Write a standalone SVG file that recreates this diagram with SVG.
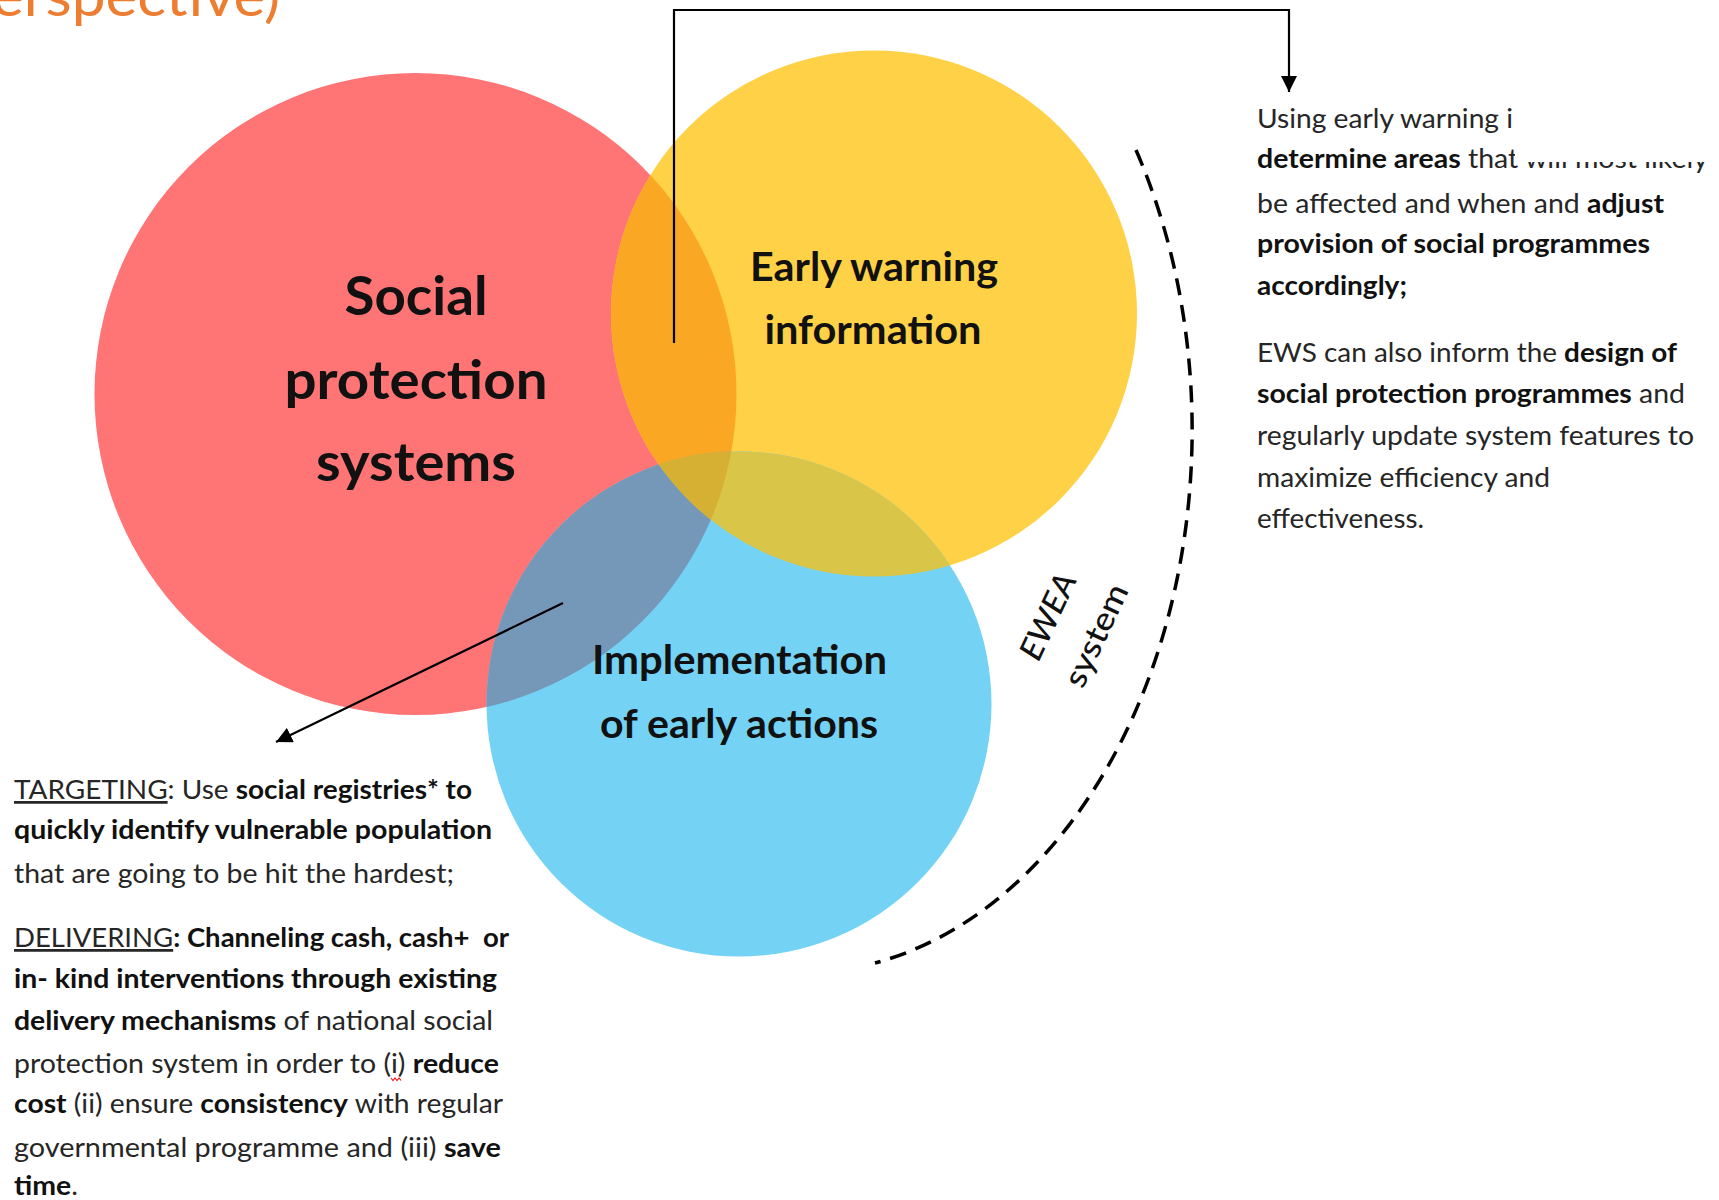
<svg xmlns="http://www.w3.org/2000/svg" width="1719" height="1200" viewBox="0 0 1719 1200">
<style>
.t{font-family:Lato,"Liberation Sans",sans-serif;fill:#262626;}
.p{font-size:27.5px;}
.b{font-weight:700;fill:#111;}
.h{font-family:Lato,"Liberation Sans",sans-serif;font-weight:700;fill:#111;text-anchor:middle;}
.u{text-decoration:underline;}
.ln{fill:none;stroke:#000;stroke-width:2.2;}
</style>
<defs>
<clipPath id="cpRed"><circle cx="415.5" cy="394" r="321"/></clipPath>
<clipPath id="cpYel"><circle cx="874" cy="313.5" r="263"/></clipPath>
<marker id="ah" viewBox="0 0 10 10" refX="10" refY="5" markerWidth="16" markerHeight="16" markerUnits="userSpaceOnUse" orient="auto"><path d="M0 0 L10 5 L0 10 Z" fill="#000"/></marker>
</defs>
<rect width="1719" height="1200" fill="#fff"/>
<text class="t" x="-8" y="16" font-size="56" font-weight="400" style="fill:#ED7D31" textLength="288" lengthAdjust="spacingAndGlyphs">erspective)</text>

<g id="node-social"><circle cx="415.5" cy="394" r="321" fill="#FF7474"/></g>
<g id="node-early-warning"><circle cx="874" cy="313.5" r="263" fill="#FFD146"/></g>
<g id="node-implementation"><circle cx="739" cy="704" r="252.5" fill="#74D3F5"/></g>
<g id="overlaps">
<circle cx="874" cy="313.5" r="263" fill="#FAA723" clip-path="url(#cpRed)"/>
<circle cx="739" cy="704" r="252.5" fill="#7597B8" clip-path="url(#cpRed)"/>
<circle cx="739" cy="704" r="252.5" fill="#D9C548" clip-path="url(#cpYel)"/>
<g clip-path="url(#cpRed)"><circle cx="739" cy="704" r="252.5" fill="#D6B033" clip-path="url(#cpYel)"/></g>
</g>

<g id="labels">
<text class="h" x="416" y="315" font-size="54" textLength="143" lengthAdjust="spacingAndGlyphs">Social</text>
<text class="h" x="416" y="399" font-size="54" textLength="263" lengthAdjust="spacingAndGlyphs">protection</text>
<text class="h" x="416" y="481" font-size="54" textLength="200" lengthAdjust="spacingAndGlyphs">systems</text>
<text class="h" x="874" y="281" font-size="40" textLength="248" lengthAdjust="spacingAndGlyphs">Early warning</text>
<text class="h" x="873" y="344" font-size="40" textLength="217" lengthAdjust="spacingAndGlyphs">information</text>
<text class="h" x="739.5" y="674" font-size="40" textLength="295" lengthAdjust="spacingAndGlyphs">Implementation</text>
<text class="h" x="739" y="738" font-size="40" textLength="278" lengthAdjust="spacingAndGlyphs">of early actions</text>
</g>

<g id="ewea-label">
<text class="t" transform="translate(1058 621) rotate(-65)" font-size="32" font-style="italic" font-weight="500" text-anchor="middle" style="fill:#111" textLength="92" lengthAdjust="spacingAndGlyphs">EWEA</text>
<text class="t" transform="translate(1106 640) rotate(-65)" font-size="32" font-weight="500" text-anchor="middle" style="fill:#111" textLength="110" lengthAdjust="spacingAndGlyphs">system</text>
</g>

<g id="text-right" class="t p">
<text x="1257" y="128" textLength="256" lengthAdjust="spacingAndGlyphs">Using early warning i</text>
<text x="1257" y="168" textLength="451" lengthAdjust="spacingAndGlyphs"><tspan class="b">determine areas</tspan> that will most likely</text>
<text x="1257" y="213" textLength="407" lengthAdjust="spacingAndGlyphs">be affected and when and <tspan class="b">adjust</tspan></text>
<text x="1257" y="253" class="b" textLength="393" lengthAdjust="spacingAndGlyphs">provision of social programmes</text>
<text x="1257" y="295" class="b" textLength="150" lengthAdjust="spacingAndGlyphs">accordingly;</text>
<text x="1257" y="362" textLength="420" lengthAdjust="spacingAndGlyphs">EWS can also inform the <tspan class="b">design of</tspan></text>
<text x="1257" y="403" textLength="428" lengthAdjust="spacingAndGlyphs"><tspan class="b">social protection programmes</tspan> and</text>
<text x="1257" y="445" textLength="437" lengthAdjust="spacingAndGlyphs">regularly update system features to</text>
<text x="1257" y="487" textLength="293" lengthAdjust="spacingAndGlyphs">maximize efficiency and</text>
<text x="1257" y="528" textLength="167" lengthAdjust="spacingAndGlyphs">effectiveness.</text>
</g>
<rect x="1515" y="88" width="204" height="74" fill="#fff"/>

<g id="text-left" class="t p">
<text x="14" y="799" textLength="458" lengthAdjust="spacingAndGlyphs"><tspan class="u">TARGETING</tspan>: Use <tspan class="b">social registries* to</tspan></text>
<text x="14" y="839" class="b" textLength="478" lengthAdjust="spacingAndGlyphs">quickly identify vulnerable population</text>
<text x="14" y="883" textLength="440" lengthAdjust="spacingAndGlyphs">that are going to be hit the hardest;</text>
<text x="14" y="947" textLength="495" lengthAdjust="spacingAndGlyphs" xml:space="preserve"><tspan class="u">DELIVERING</tspan><tspan class="b">: Channeling cash, cash+  or</tspan></text>
<text x="14" y="988" class="b" textLength="483" lengthAdjust="spacingAndGlyphs">in- kind interventions through existing</text>
<text x="14" y="1030" textLength="479" lengthAdjust="spacingAndGlyphs"><tspan class="b">delivery mechanisms</tspan> of national social</text>
<text x="14" y="1073" textLength="485" lengthAdjust="spacingAndGlyphs">protection system in order to (i) <tspan class="b">reduce</tspan></text>
<text x="14" y="1113" textLength="489" lengthAdjust="spacingAndGlyphs"><tspan class="b">cost</tspan> (ii) ensure <tspan class="b">consistency</tspan> with regular</text>
<text x="14" y="1157" textLength="487" lengthAdjust="spacingAndGlyphs">governmental programme and (iii) <tspan class="b">save</tspan></text>
<text x="14" y="1195" textLength="64" lengthAdjust="spacingAndGlyphs"><tspan class="b">time</tspan>.</text>
</g>
<path d="M391 1078 l2 2.5 l2 -2.5 l2 2.5 l2 -2.5 l2 2.5" fill="none" stroke="#e02020" stroke-width="1.2"/>

<g id="connectors">
<path class="ln" d="M674 343 V10 H1289 V92" marker-end="url(#ah)"/>
<path class="ln" d="M563 603 L276 742" marker-end="url(#ah)"/>
<path d="M1136 150 A392 543 0 0 1 875 963" fill="none" stroke="#000" stroke-width="3.5" stroke-dasharray="17 10"/>
</g>
</svg>
